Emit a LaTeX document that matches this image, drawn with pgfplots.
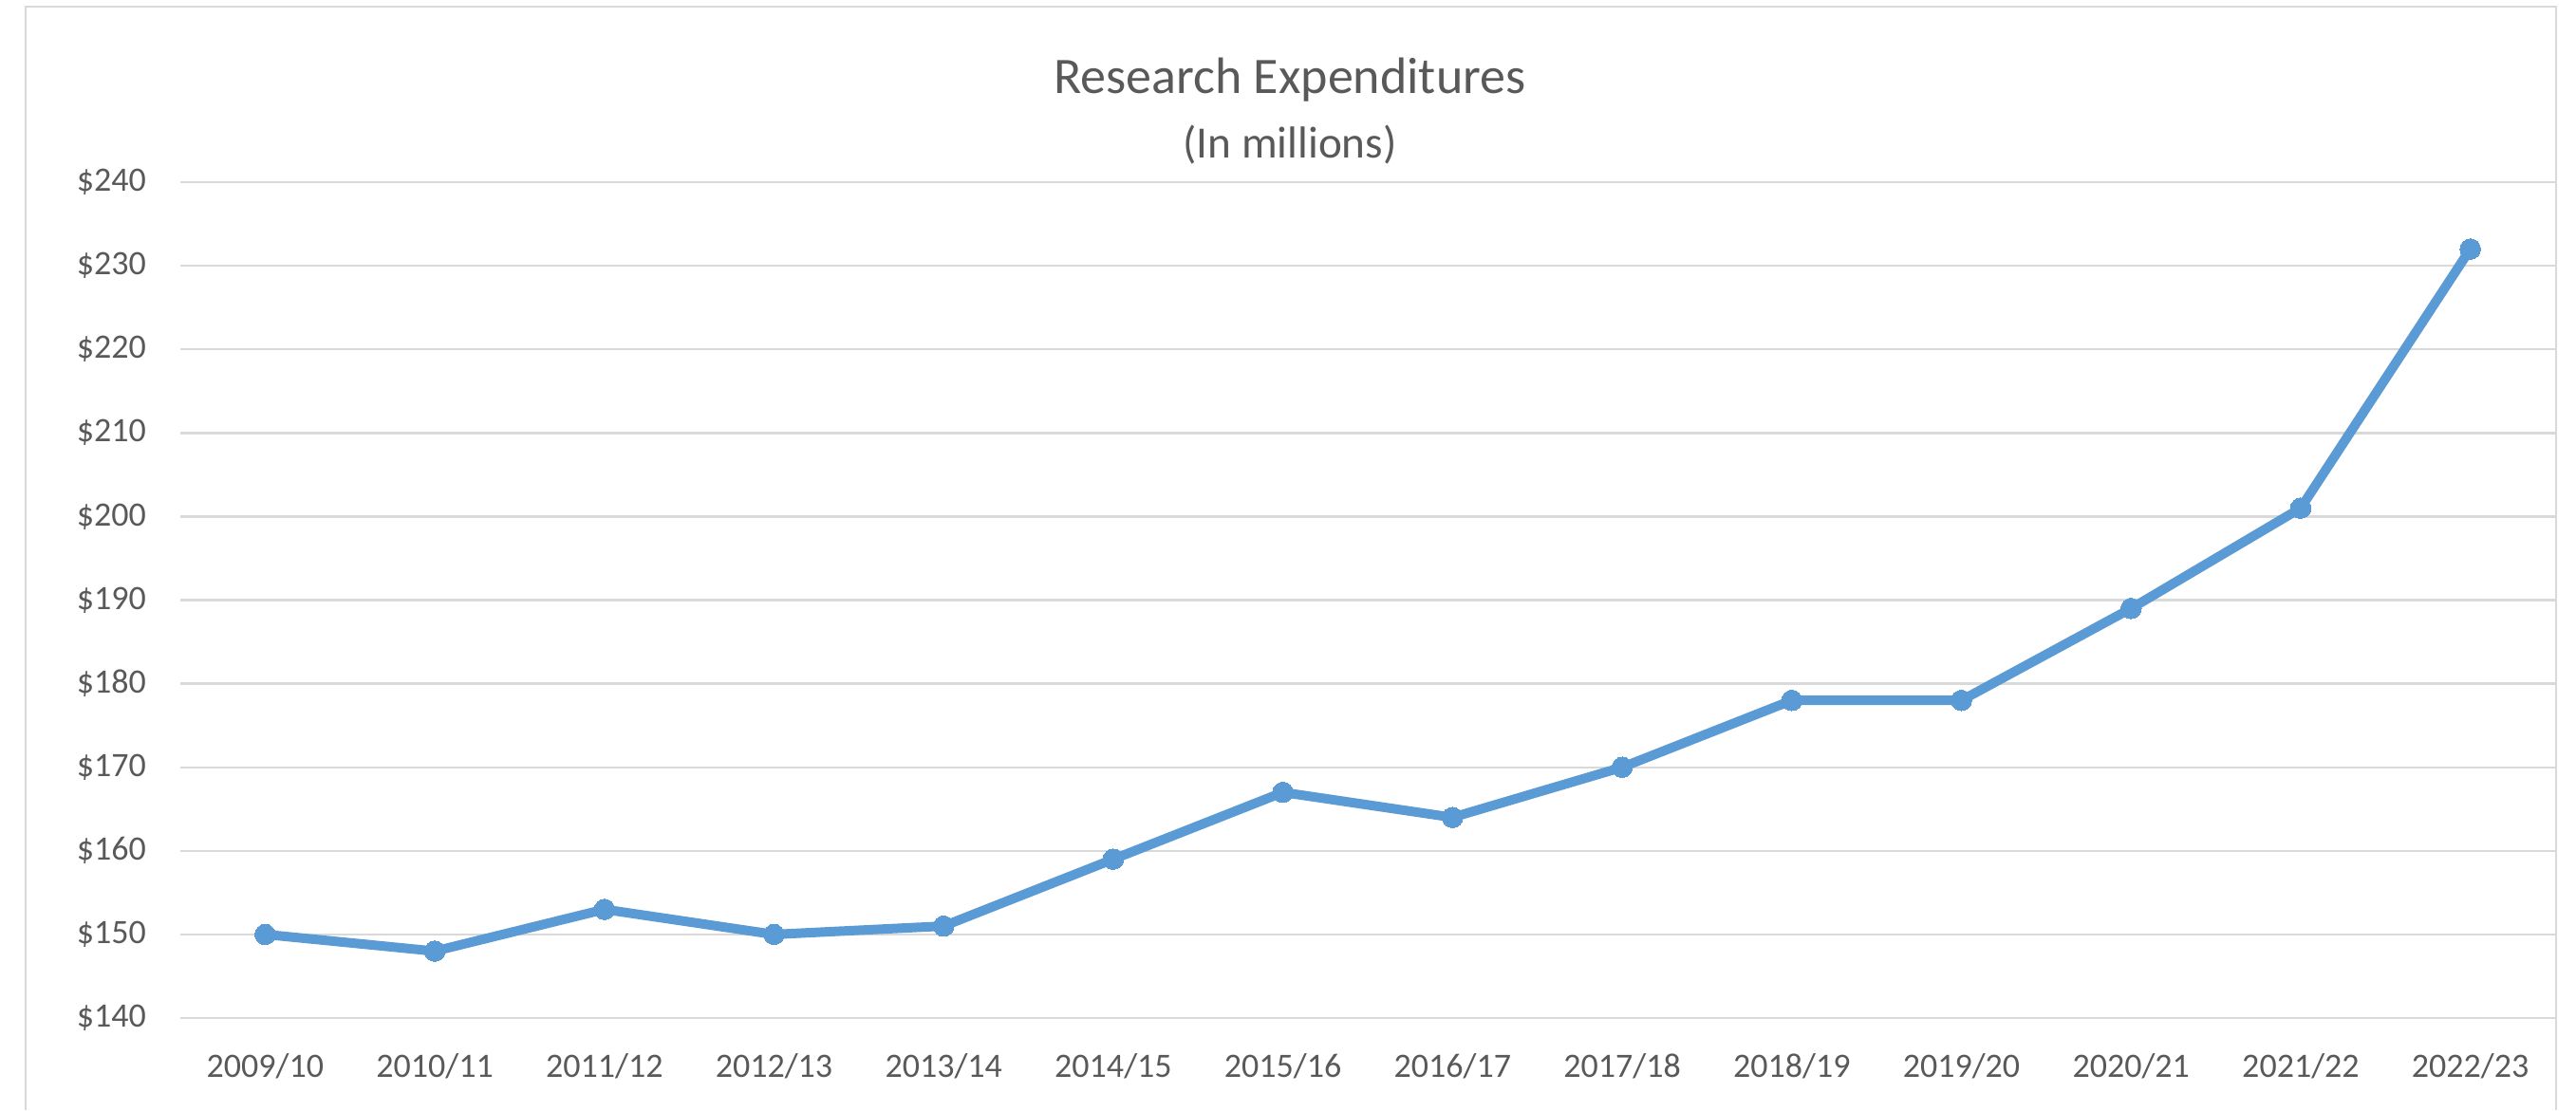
\documentclass[border=0pt]{standalone}
\usepackage{pgfplots}
\pgfplotsset{compat=1.18}
\usepackage{fontspec}
\setmainfont{Carlito}
\definecolor{txtc}{HTML}{595959}
\definecolor{gridc}{HTML}{D9D9D9}
\definecolor{linec}{HTML}{5B9BD5}
\begin{document}
\begin{tikzpicture}
\useasboundingbox (0,0) rectangle (678.5pt,292.5pt);
\draw[gridc, line width=0.6pt] (6.75pt,0) -- (6.75pt,290.75pt) -- (673.25pt,290.75pt) -- (673.25pt,0);
\node[anchor=base, text=txtc, font=\fontsize{13.5}{16}\selectfont, inner sep=0] at (339.75pt,267.75pt) {Research Expenditures};
\node[anchor=base, text=txtc, font=\fontsize{11.8}{14}\selectfont, inner sep=0] at (339.75pt,250.75pt) {(In millions)};
\begin{axis}[
  at={(47.5pt,24.25pt)}, anchor=south west,
  scale only axis, width=625.5pt, height=220.25pt,
  xmin=-0.5, xmax=13.5, ymin=140, ymax=240,
  xtick={0,...,13},
  xticklabels={2009/10,2010/11,2011/12,2012/13,2013/14,2014/15,2015/16,2016/17,2017/18,2018/19,2019/20,2020/21,2021/22,2022/23},
  ytick={140,150,...,240},
  yticklabels={\$140,\$150,\$160,\$170,\$180,\$190,\$200,\$210,\$220,\$230,\$240},
  major tick length=0pt,
  axis line style={draw=none},
  xmajorgrids=false, ymajorgrids=true,
  y grid style={gridc, line width=0.6pt},
  tick label style={text=txtc, font=\fontsize{9}{11}\selectfont},
  xticklabel style={anchor=north, yshift=-5.75pt},
  yticklabel style={anchor=east, xshift=-5.5pt},
  clip=false,
]
\addplot[linec, line width=2.5pt, mark=*, mark size=2.7pt, mark options={fill=linec, draw=linec, line width=0pt}] coordinates {
(0,150) (1,148) (2,153) (3,150) (4,151) (5,159) (6,167) (7,164) (8,170) (9,178) (10,178) (11,189) (12,201) (13,232)
};
\end{axis}
\end{tikzpicture}
\end{document}
